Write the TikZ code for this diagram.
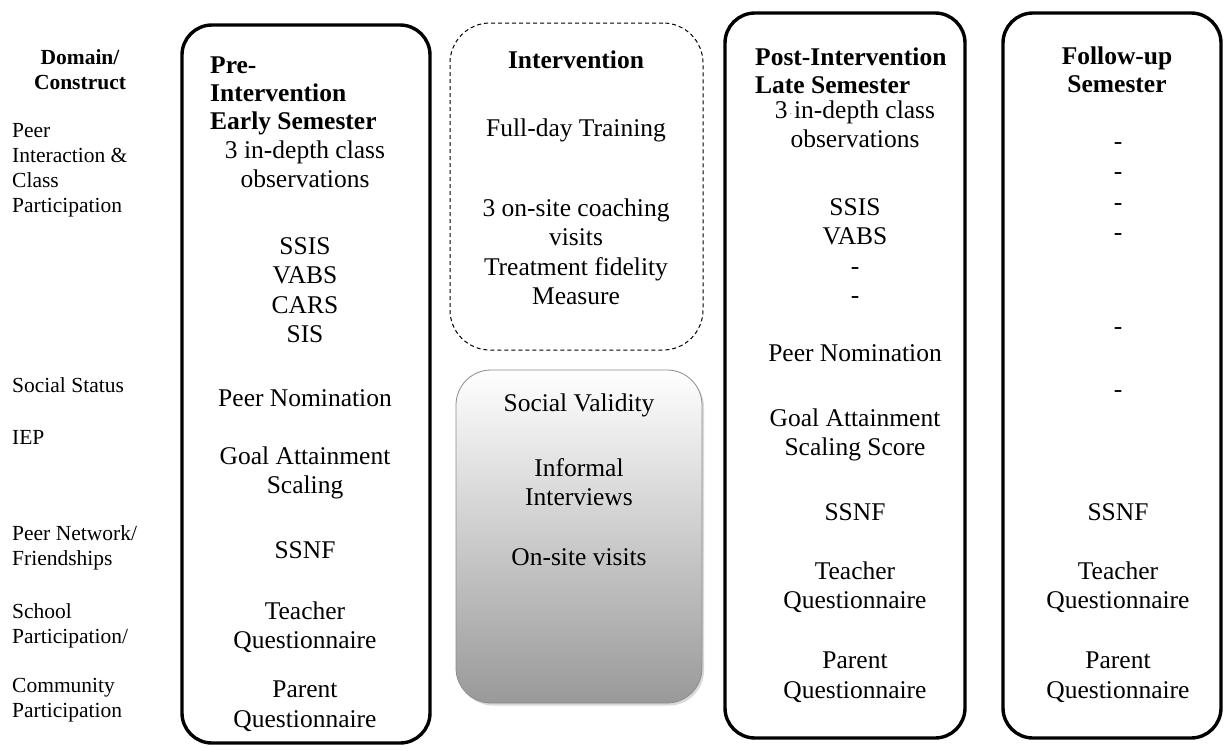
\documentclass[tikz,border=0pt]{standalone}
\usepackage{fontspec}
\setmainfont{Liberation Serif}
\usetikzlibrary{shadows}
\begin{document}
\begin{tikzpicture}[x=1pt,y=-1pt,
  bigbox/.style={draw, line width=3.4pt, rounded corners=30pt, inner sep=0pt},
  dashbox/.style={draw, line width=1pt, dash pattern=on 4pt off 3pt, rounded corners=40pt, inner sep=0pt},
  greybox/.style={draw=black!45, line width=0.8pt, rounded corners=35pt, inner sep=0pt,
     top color=white, bottom color=black!40,
     drop shadow={shadow xshift=2pt, shadow yshift=-2.5pt, opacity=0.3}},
  body/.style={font=\fontsize{25.5}{29.5}\selectfont, align=center, inner sep=0pt},
  hdr/.style={font=\fontsize{25.5}{28}\selectfont\bfseries, align=left, inner sep=0pt, anchor=west},
  hdrc/.style={font=\fontsize{25.5}{28}\selectfont\bfseries, align=center, inner sep=0pt},
  lbl/.style={font=\fontsize{21.5}{25}\selectfont, align=left, inner sep=0pt, anchor=west},
]
\useasboundingbox (0,0) rectangle (1225,750);

% boxes
\node[bigbox, minimum width=248pt, minimum height=718pt] (pre) at (306,384) {};
\node[dashbox, minimum width=253pt, minimum height=327pt] (int) at (576.5,186.5) {};
\node[greybox, minimum width=246pt, minimum height=333pt] (sv) at (579,536.5) {};
\node[bigbox, minimum width=240pt, minimum height=725pt] (post) at (845,375.5) {};
\node[bigbox, minimum width=218pt, minimum height=725pt] (fol) at (1112,375.5) {};

% left column
\node[hdrc, font=\fontsize{21.5}{25}\selectfont\bfseries] (dom) at (80,70) {Domain/\\Construct};
\node[lbl] (l1) at (12,170.5) {Peer\\Interaction \&\\Class\\Participation};
\node[lbl] (l2) at (12,385) {Social Status};
\node[lbl] (l3) at (12,437) {IEP};
\node[lbl] (l4) at (12,548) {Peer Network/\\Friendships};
\node[lbl] (l5) at (12,625.5) {School\\Participation/};
\node[lbl] (l6) at (12,700.5) {Community\\Participation};

% pre-intervention
\node[hdr] (preh) at (210,96) {Pre-\\Intervention\\Early Semester};
\node[body] (p1) at (305,164.5) {3 in-depth class\\observations};
\node[body] (p2) at (305,290) {SSIS\\VABS\\CARS\\SIS};
\node[body] (p3) at (305,398) {Peer Nomination};
\node[body] (p4) at (305,473) {Goal Attainment\\Scaling};
\node[body] (p5) at (305,550) {SSNF};
\node[body] (p6) at (305,627) {Teacher\\Questionnaire};
\node[body] (p7) at (305,706) {Parent\\Questionnaire};

% intervention
\node[hdrc] (ih) at (576,60) {Intervention};
\node[body] (i1) at (576,130) {Full-day Training};
\node[body] (i2) at (576,252) {3 on-site coaching\\visits\\Treatment fidelity\\Measure};

% social validity
\node[body] (s1) at (579,405) {Social Validity};
\node[body] (s2) at (579,482) {Informal\\Interviews};
\node[body] (s3) at (579,557) {On-site visits};

% post-intervention
\node[hdr] (posth) at (755,71) {Post-Intervention\\Late Semester};
\node[body] (q1) at (855,124.5) {3\makebox[0.25em]{\color{blue}\raisebox{0.35ex}{\scriptsize.}}in-depth class\\observations};
\node[body] (q2) at (855,251) {SSIS\\VABS\\-\\-};
\node[body] (q3) at (855,353) {Peer Nomination};
\node[body] (q4) at (855,435) {Goal Attainment\\Scaling Score};
\node[body] (q5) at (855,512) {SSNF};
\node[body] (q6) at (855,587) {Teacher\\Questionnaire};
\node[body] (q7) at (855,677) {Parent\\Questionnaire};

% follow-up
\node[hdrc] (fh) at (1117,70) {Follow-up\\Semester};
\node[body] (f1) at (1118,146) {-};
\node[body] (f2) at (1118,176) {-};
\node[body] (f3) at (1118,207) {-};
\node[body] (f4) at (1118,237) {-};
\node[body] (f5) at (1118,331) {-};
\node[body] (f6) at (1118,394) {-};
\node[body] (f7) at (1118,512) {SSNF};
\node[body] (f8) at (1118,587) {Teacher\\Questionnaire};
\node[body] (f9) at (1118,677) {Parent\\Questionnaire};
\end{tikzpicture}
\end{document}
